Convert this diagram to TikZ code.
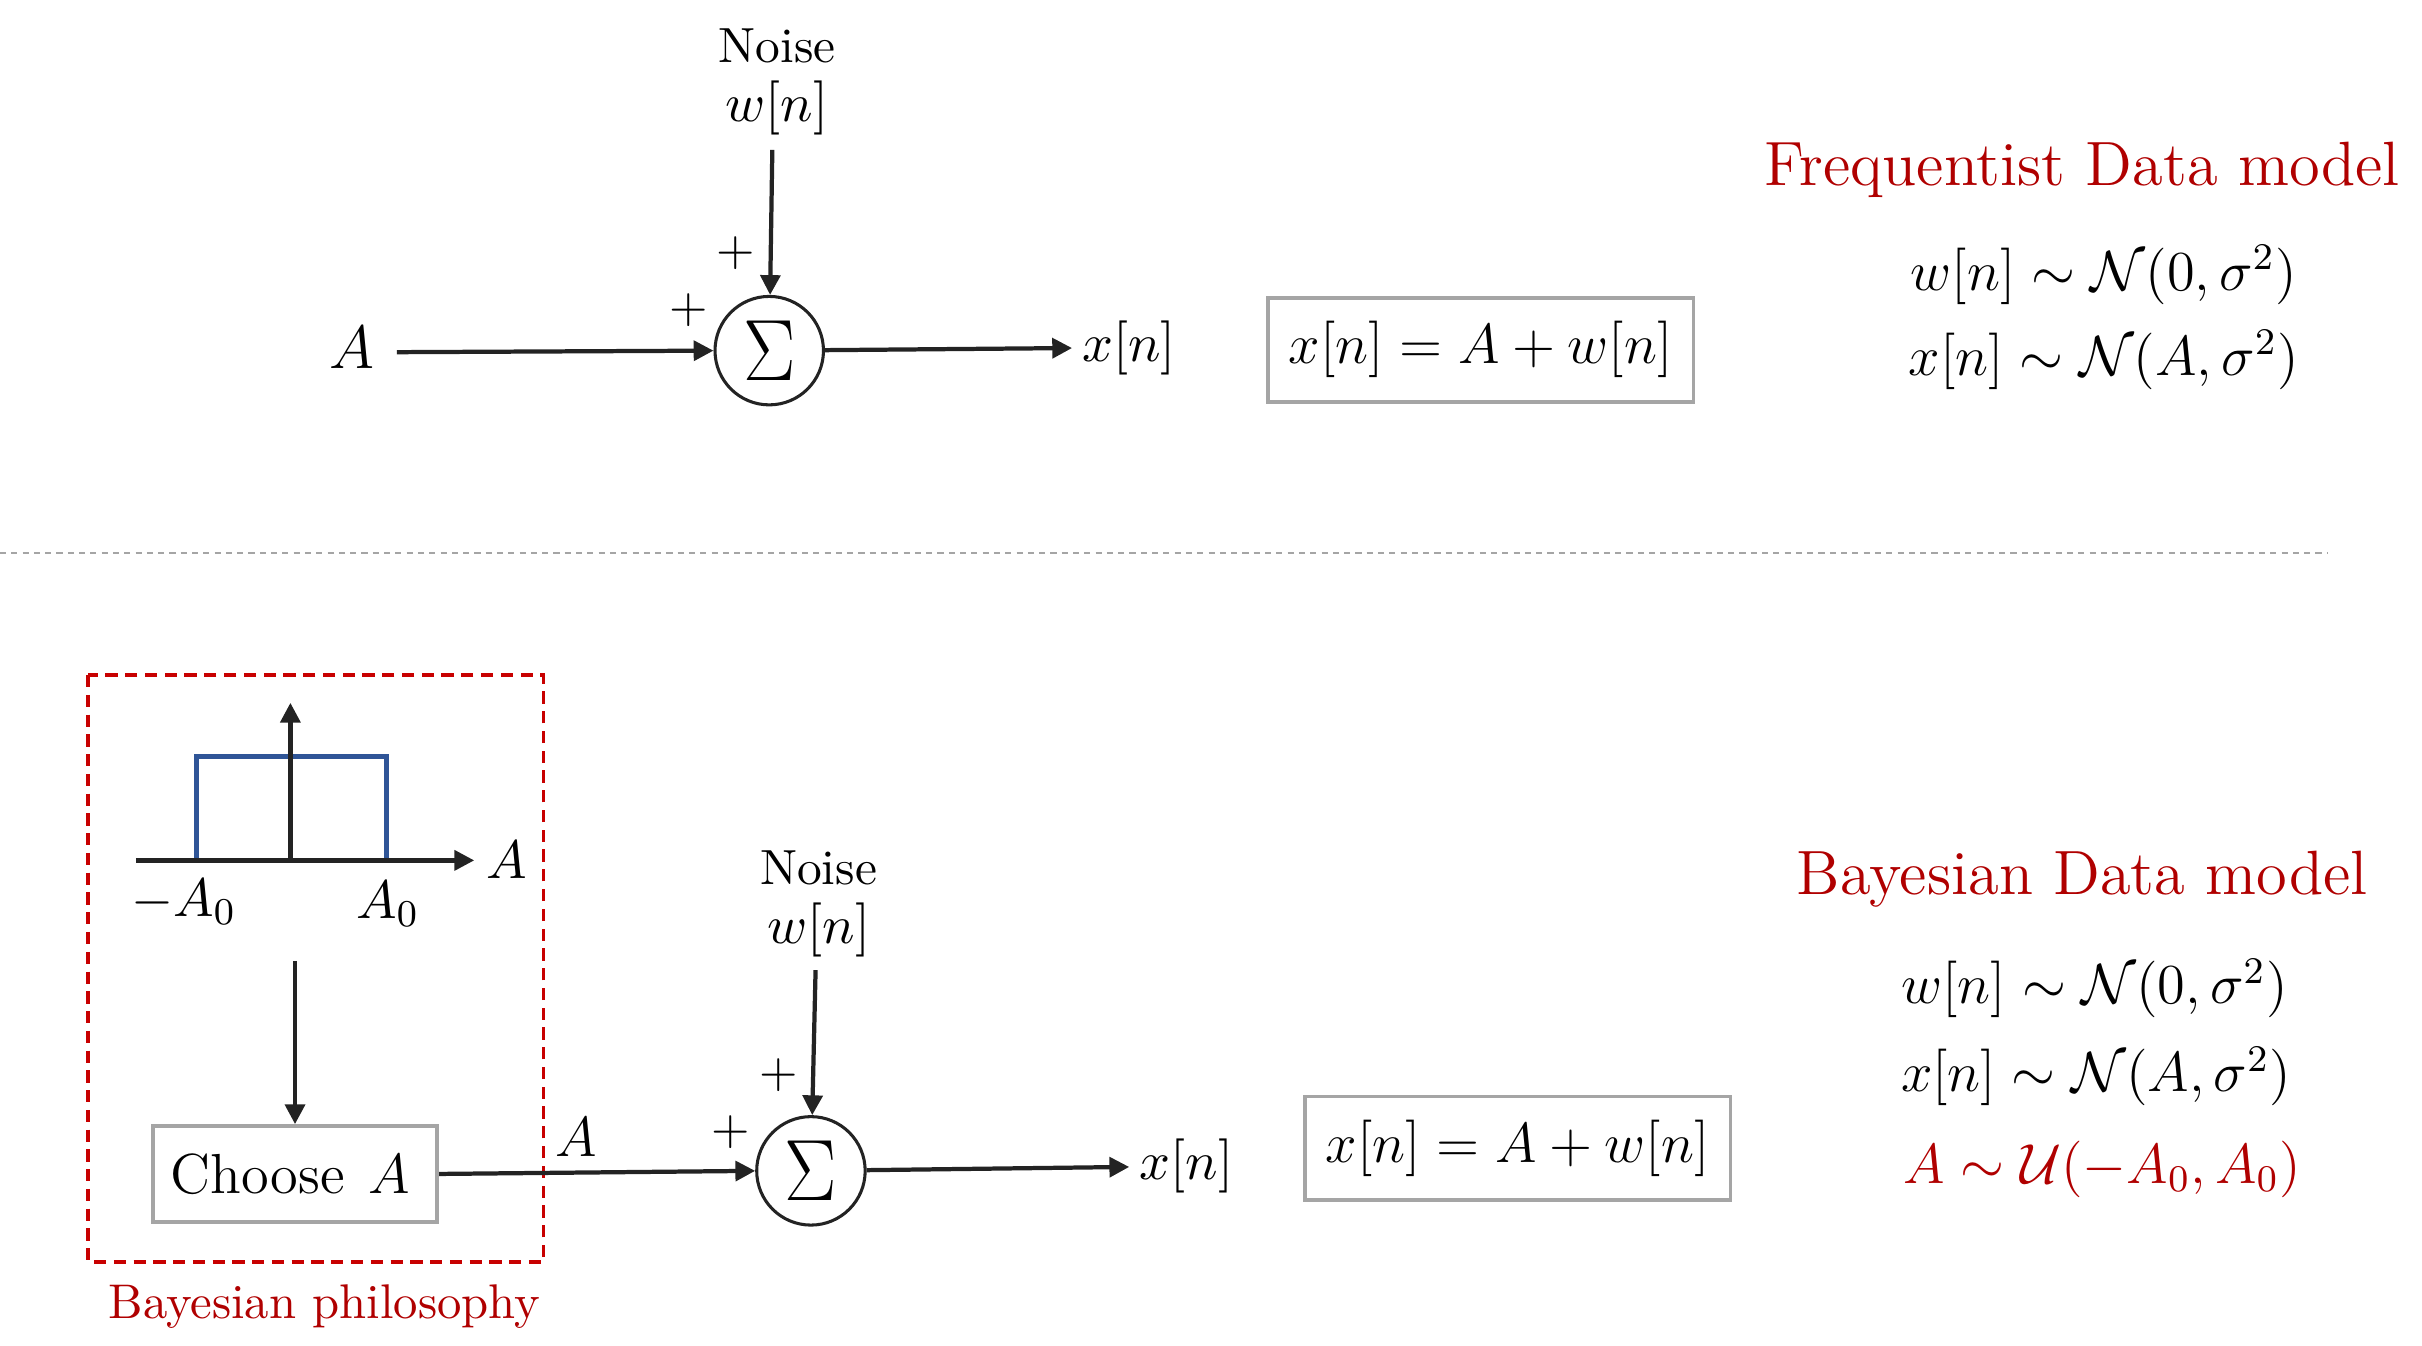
\documentclass[tikz,border=0pt]{standalone}
\usepackage{fix-cm}
\usepackage{amsmath,amssymb}
\usetikzlibrary{arrows.meta}
\definecolor{dred}{RGB}{176,0,0}
\definecolor{bred}{RGB}{200,0,0}
\definecolor{pblue}{RGB}{47,85,151}
\definecolor{bgray}{RGB}{165,165,165}
\definecolor{ink}{RGB}{35,35,35}
\newcommand\fsz[1]{\fontsize{#1}{#1}\selectfont}
\newcommand\bigsig{\scalebox{0.9}[1]{\fsz{18.5}$\Sigma$}}
\tikzset{
  arr/.style={draw=ink,line width=0.9pt,-{Triangle[length=4.2pt,width=4.2pt]}},
  sumc/.style={draw=ink,circle,line width=0.65pt,minimum size=0.81cm,inner sep=0pt},
  eqbox/.style={draw=bgray,line width=0.8pt,minimum width=3.18cm,minimum height=0.775cm,inner sep=0pt,font=\fsz{12}},
  lbl/.style={inner sep=2pt,font=\fsz{11.5}},
  plus/.style={inner sep=0pt,font=\fsz{10.5}},
  title/.style={text=dred,font=\fsz{13.3}},
  eqn/.style={font=\fsz{12}},
}
\begin{document}
\begin{tikzpicture}[x=0.011543cm,y=-0.011543cm]
\useasboundingbox (0,0) rectangle (1568,871);
% ---------- top: frequentist ----------
\node[font=\fsz{10.5}] (noise1) at (503,30) {Noise};
\node[lbl] (w1) at (503,70) {$w[n]$};
\coordinate (w1s) at (500,97);
\node[sumc] (s1) at (498,227) {\bigsig};
\node[font=\fsz{13}] (A1) at (228,225) {$A$};
\coordinate (a1s) at (257,228);
\node[lbl] (x1) at (731,225) {$x[n]$};
\node[plus] (p1a) at (476,164) {$+$};
\node[plus] (p1b) at (446,201) {$+$};
\draw[arr] (w1s) -- (s1);
\draw[arr] (a1s) -- (s1.west);
\draw[arr] (s1) -- (x1);
\node[eqbox] (e1) at (958.5,226.5) {$x[n] = A + w[n]$};
\node[title] (t1) at (1348,110) {Frequentist Data model};
\node[eqn] (f1) at (1362,178) {$w[n] \sim \mathcal{N}(0,\sigma^2)$};
\node[eqn] (f2) at (1362,233) {$x[n] \sim \mathcal{N}(A,\sigma^2)$};
% ---------- separator ----------
\coordinate (sepL) at (0,358);
\coordinate (sepR) at (1507,358);
\draw[bgray,line width=0.4pt,dash pattern=on 1.3pt off 1.1pt] (sepL) -- (sepR);
% ---------- bottom: bayesian ----------
\draw[bred,line width=0.7pt,dash pattern=on 2.6pt off 1.6pt] (57,437) rectangle (352,817);
\draw[pblue,line width=1.1pt] (127,557) -- (127,490) -- (250,490) -- (250,557);
\coordinate (ax0) at (88,557);
\coordinate (ax1) at (307,557);
\coordinate (ay0) at (188,557);
\coordinate (ay1) at (188,455);
\draw[arr] (ax0) -- (ax1);
\draw[arr] (ay0) -- (ay1);
\node[lbl] (mA0) at (119,584) {$-A_0$};
\node[lbl] (pA0) at (251,585) {$A_0$};
\node[lbl] (axA) at (328,557) {$A$};
\coordinate (pdfout) at (191,622);
\node[draw=bgray,line width=0.8pt,minimum width=2.124cm,minimum height=0.716cm,inner sep=0pt] (choose) at (191,760) {};
\node[inner sep=0pt,font=\fsz{12}] (chooseT) at (188,760) {Choose\hspace{1.2pt} $A$};
\draw[arr] (pdfout) -- (choose.north);
\node[font=\fsz{10.5}] (noise2) at (530,562) {Noise};
\node[lbl] (w2) at (530,602) {$w[n]$};
\coordinate (w2s) at (528,628);
\node[sumc] (s2) at (525,758) {\bigsig};
\node[lbl] (x2) at (768,755) {$x[n]$};
\node[plus] (p2a) at (504,696) {$+$};
\node[plus] (p2b) at (473,733) {$+$};
\node[font=\fsz{12}] (A2) at (373,736) {$A$};
\draw[arr] (w2s) -- (s2);
\draw[arr] (choose.east) -- (s2.west);
\draw[arr] (s2) -- (x2);
\node[eqbox] (e2) at (982.5,743.5) {$x[n] = A + w[n]$};
\node[title] (t2) at (1348,569) {Bayesian Data model};
\node[eqn] (b1) at (1356,640) {$w[n] \sim \mathcal{N}(0,\sigma^2)$};
\node[eqn] (b2) at (1357,697) {$x[n] \sim \mathcal{N}(A,\sigma^2)$};
\node[eqn,text=dred] (b3) at (1361,757) {$A \sim \mathcal{U}(-A_0,A_0)$};
\node[text=dred,font=\fsz{10.35}] (bphil) at (210,846) {Bayesian philosophy};
\end{tikzpicture}
\end{document}
